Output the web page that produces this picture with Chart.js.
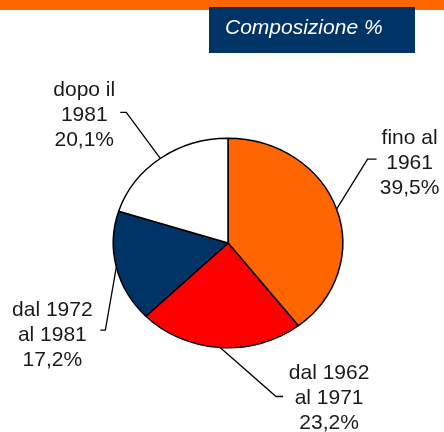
<!DOCTYPE html>
<html>
<head>
<meta charset="utf-8">
<script src="https://cdn.jsdelivr.net/npm/chart.js@4/dist/chart.umd.min.js"></script>
<style>
  html, body { margin: 0; padding: 0; background: #fff; }
  #wrap { position: relative; width: 444px; height: 432px; }
</style>
</head>
<body>
<div id="wrap"><canvas id="Composizione" width="444" height="432"></canvas></div>
<script>
// periodi di costruzione e quote (%)
const periods = [['fino al', '1961'], ['dal 1962', 'al 1971'], ['dal 1972', 'al 1981'], ['dopo il', '1981']];
const shares = [39.5, 23.2, 17.2, 20.1];
const sliceColors = ['#FF6600', '#FF0000', '#003366', '#FFFFFF'];
const headerTitle = 'Composizione %';

// leader lines: elbow offset from slice edge, tick length, label centre offset from tick end
const leaders = [
    { dx: 31, dy: -50, tick: 9, tx: 33, ty: 2 },
    { dx: 56, dy: 49, tick: 7, tx: 46, ty: 0 },
    { dx: -11, dy: 63, tick: -5, tx: -48, ty: 3 },
    { dx: -34, dy: -46, tick: -6, tx: -36, ty: 1 }
];
const ELLIPSE = 105 / 115;

const headerPlugin = {
    id: 'header',
    beforeDraw(chart) {
        const ctx = chart.ctx;
        ctx.save();
        ctx.fillStyle = '#FF6600';
        ctx.fillRect(0, 0, 444, 10);
        ctx.fillStyle = '#003366';
        ctx.fillRect(209, 7, 206, 46);
        ctx.fillStyle = '#FFFFFF';
        ctx.font = 'italic 21px "Liberation Sans", Arial, sans-serif';
        ctx.textBaseline = 'alphabetic';
        ctx.fillText(headerTitle, 225, 34);
        ctx.restore();
    }
};

// squash the pie vertically a little, like the original
const ellipsePlugin = {
    id: 'ellipse',
    beforeDatasetsDraw(chart) {
        const arc = chart.getDatasetMeta(0).data[0];
        const ctx = chart.ctx;
        ctx.save();
        ctx.translate(arc.x, arc.y);
        ctx.scale(1, ELLIPSE);
        ctx.translate(-arc.x, -arc.y);
    },
    afterDatasetsDraw(chart) {
        chart.ctx.restore();
    }
};

const leaderPlugin = {
    id: 'leaders',
    afterDatasetsDraw(chart) {
        const ctx = chart.ctx;
        const arcs = chart.getDatasetMeta(0).data;
        ctx.save();
        arcs.forEach((arc, i) => {
            const mid = (arc.startAngle + arc.endAngle) / 2;
            const ex = arc.x + Math.cos(mid) * arc.outerRadius;
            const ey = arc.y + Math.sin(mid) * arc.outerRadius * ELLIPSE;
            const l = leaders[i];
            const bx = ex + l.dx, by = ey + l.dy;
            ctx.strokeStyle = '#000';
            ctx.lineWidth = 1.3;
            ctx.beginPath();
            ctx.moveTo(ex, ey);
            ctx.lineTo(bx, by);
            ctx.lineTo(bx + l.tick, by);
            ctx.stroke();

            const lines = [periods[i][0], periods[i][1], shares[i].toFixed(1).replace('.', ',') + '%'];
            ctx.fillStyle = '#1a1a1a';
            ctx.font = '21px "Liberation Sans", Arial, sans-serif';
            ctx.textAlign = 'center';
            ctx.textBaseline = 'alphabetic';
            const cx = bx + l.tick + l.tx, cy = by + l.ty;
            lines.forEach((t, k) => ctx.fillText(t, cx, cy + (k - 1) * 25 + 7.5));
        });
        ctx.restore();
    }
};

new Chart('Composizione', {
    type: 'pie',
    data: {
        labels: periods.map(p => p.join(' ')),
        datasets: [{
            data: shares,
            backgroundColor: sliceColors,
            borderColor: '#000000',
            borderWidth: 1.5
        }]
    },
    options: {
        responsive: false,
        animation: false,
        layout: { padding: { left: 112.5, right: 100.5, top: 127.5, bottom: 73.5 } },
        plugins: {
            legend: { display: false },
            tooltip: { enabled: false }
        }
    },
    plugins: [headerPlugin, ellipsePlugin, leaderPlugin]
});
</script>
</body>
</html>
